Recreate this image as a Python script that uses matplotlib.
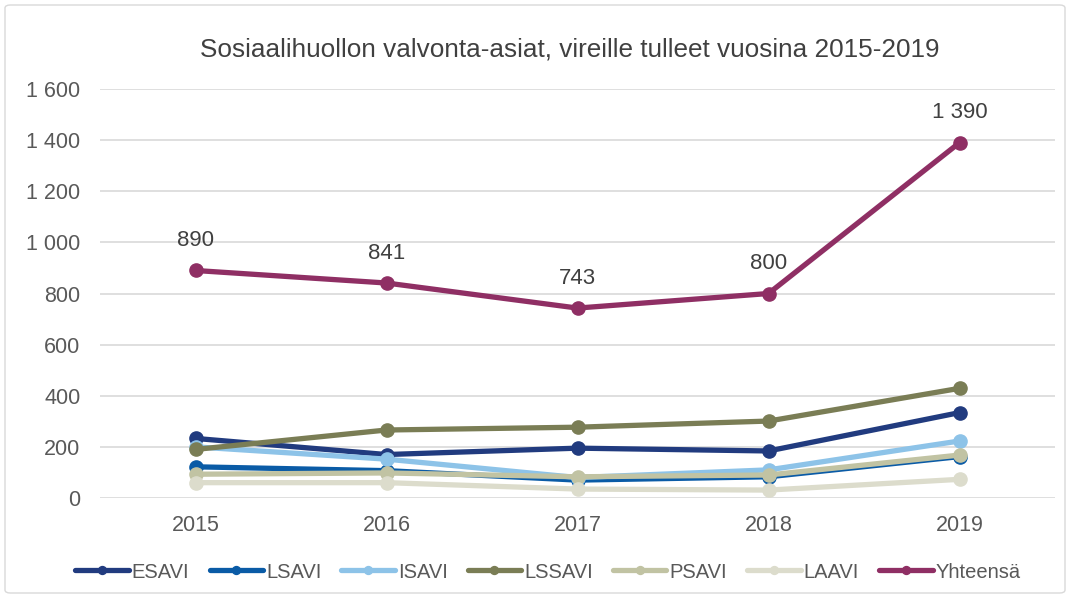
import matplotlib
matplotlib.use("Agg")
import matplotlib.pyplot as plt
from matplotlib.patches import FancyBboxPatch
from matplotlib.ticker import FuncFormatter

years = ["2015", "2016", "2017", "2018", "2019"]
esavi = [233, 170, 195, 184, 334]
lsavi = [122, 107, 70, 83, 162]
isavi = [200, 152, 80, 110, 223]
lssavi = [190, 266, 277, 301, 429]
psavi = [93, 98, 83, 90, 168]
laavi = [60, 60, 35, 31, 73]
yhteensa = [890, 841, 743, 800, 1390]

series_names = ["ESAVI", "LSAVI", "ISAVI", "LSSAVI", "PSAVI", "LAAVI", "Yhteensä"]
series_values = [esavi, lsavi, isavi, lssavi, psavi, laavi, yhteensa]
colors = ["#213b7f", "#0a5ba6", "#8dc3e8", "#7a7d55", "#c1c3a3", "#dcdccc", "#8f2f64"]

plt.rcParams['font.family'] = ['Arial', 'Liberation Sans', 'DejaVu Sans']

fig = plt.figure(figsize=(10.7, 5.98), dpi=100)
ax = fig.add_axes([100/1070, 1-498/598, 955/1070, (498-89)/598])

x = list(range(len(years)))
for name, vals, c in zip(series_names, series_values, colors):
    ax.plot(x, vals, color=c, lw=3.8, marker='o', markersize=9.5, label=name,
            solid_capstyle='round')

for xi, v in zip(x, yhteensa):
    ax.annotate(f"{v:,}".replace(",", " "), (xi, v), xytext=(0, 14), textcoords='offset points',
                ha='center', va='bottom', fontsize=16, color='#404040')

ax.set_xlim(-0.5, 4.5)
ax.set_ylim(0, 1600)
ax.set_yticks(range(0, 1601, 200))
ax.yaxis.set_major_formatter(FuncFormatter(lambda v, p: f"{int(v):,}".replace(",", " ")))
ax.set_xticks(x)
ax.set_xticklabels(years)
ax.grid(axis='y', color='#d9d9d9', lw=1.2)
ax.set_axisbelow(True)
for s in ax.spines.values():
    s.set_visible(False)
ax.tick_params(axis='both', length=0, labelsize=15.5, colors='#595959')
ax.tick_params(axis='y', pad=14)
ax.tick_params(axis='x', pad=12)

fig.text(570/1070, 1-50/598, "Sosiaalihuollon valvonta-asiat, vireille tulleet vuosina 2015-2019",
         ha='center', va='center', fontsize=18.8, color='#404040')

leg = fig.legend(loc='center', bbox_to_anchor=(548/1070, 1-572/598), ncol=7, frameon=False,
                 fontsize=14.5, handlelength=2.65, handletextpad=0.15, columnspacing=1.0,
                 markerscale=0.6)
for t in leg.get_texts():
    t.set_color('#595959')

border = FancyBboxPatch((5/1070, 5/598), 1060/1070, 588/598, boxstyle='round,pad=0,rounding_size=0.005',
                        transform=fig.transFigure, fill=False, edgecolor='#d9d9d9', lw=1)
fig.patches.append(border)

fig.savefig("out.png", dpi=100)
